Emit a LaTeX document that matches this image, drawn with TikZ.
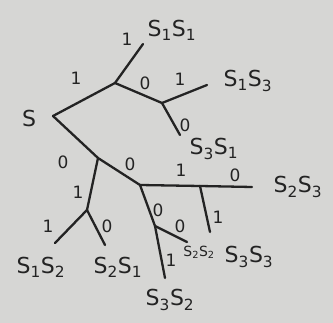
\documentclass[tikz,border=0pt]{standalone}
\usepackage{fontspec}
\setmainfont{DejaVu Sans}
\definecolor{paper}{RGB}{214,214,212}
\definecolor{ink}{RGB}{35,35,35}
\tikzset{
  edge/.style={draw=ink, line width=2.3pt, line cap=round},
  lbl/.style={text=ink, font=\fontsize{17}{17}\selectfont, inner sep=0pt},
  leaf/.style={text=ink, font=\fontsize{22}{22}\selectfont, inner sep=0pt},
  smallleaf/.style={text=ink, font=\fontsize{14}{14}\selectfont, inner sep=0pt},
}
\newcommand{\sub}[1]{\textsubscript{#1}}
\begin{document}
\begin{tikzpicture}[x=1pt,y=-1pt]
\fill[paper] (0,0) rectangle (333,323);
\useasboundingbox (0,0) rectangle (333,323);
% vertices
\coordinate (R) at (53,116);
\coordinate (A) at (115,83);
\coordinate (B) at (162,103);
\coordinate (C) at (98,158);
\coordinate (D) at (87,210);
\coordinate (E) at (140,185);
\coordinate (F) at (200,186);
\coordinate (G) at (155,226);
% free ends
\coordinate (a1) at (143,44);
\coordinate (b1) at (207,85);
\coordinate (b0) at (180,135);
\coordinate (d1) at (55,243);
\coordinate (d0) at (105,245);
\coordinate (f0) at (252,187);
\coordinate (f1) at (210,232);
\coordinate (g0) at (187,242);
\coordinate (g1) at (165,278);
% edges
\draw[edge] (R) -- (A);
\draw[edge] (A) -- (a1);
\draw[edge] (A) -- (B);
\draw[edge] (B) -- (b1);
\draw[edge] (B) -- (b0);
\draw[edge] (R) -- (C);
\draw[edge] (C) -- (E);
\draw[edge] (C) -- (D);
\draw[edge] (D) -- (d1);
\draw[edge] (D) -- (d0);
\draw[edge] (E) -- (F);
\draw[edge] (F) -- (f0);
\draw[edge] (F) -- (f1);
\draw[edge] (E) -- (G);
\draw[edge] (G) -- (g0);
\draw[edge] (G) -- (g1);
% root and leaves
\node[leaf] (S) at (29,118) {S};
\node[leaf] (l11) at (172,30) {S\sub{1}S\sub{1}};
\node[leaf] (l13) at (248,81) {S\sub{1}S\sub{3}};
\node[leaf] (l31) at (214,149) {S\sub{3}S\sub{1}};
\node[leaf] (l23) at (298,187) {S\sub{2}S\sub{3}};
\node[leaf] (l12) at (41,267) {S\sub{1}S\sub{2}};
\node[leaf] (l21) at (118,267) {S\sub{2}S\sub{1}};
\node[smallleaf] (l22) at (199,252) {S\sub{2}S\sub{2}};
\node[leaf] (l33) at (249,257) {S\sub{3}S\sub{3}};
\node[leaf] (l32) at (170,300) {S\sub{3}S\sub{2}};
% edge labels
\node[lbl] (e1) at (76,78) {1};
\node[lbl] (e2) at (127,39) {1};
\node[lbl] (e3) at (145,83) {0};
\node[lbl] (e4) at (180,79) {1};
\node[lbl] (e5) at (185,125) {0};
\node[lbl] (e6) at (63,162) {0};
\node[lbl] (e7) at (130,164) {0};
\node[lbl] (e8) at (78,192) {1};
\node[lbl] (e9) at (48,226) {1};
\node[lbl] (e10) at (107,226) {0};
\node[lbl] (e11) at (181,170) {1};
\node[lbl] (e12) at (235,175) {0};
\node[lbl] (e13) at (218,217) {1};
\node[lbl] (e14) at (158,210) {0};
\node[lbl] (e15) at (180,226) {0};
\node[lbl] (e16) at (171,260) {1};
\end{tikzpicture}
\end{document}
